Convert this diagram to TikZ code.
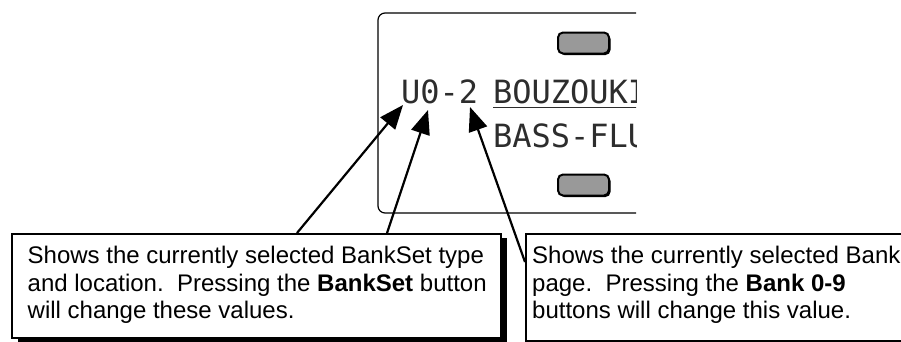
\documentclass[tikz,border=0pt]{standalone}
\usepackage{fontspec}
\setmainfont{Liberation Sans}
\newfontfamily\lcdfont{DejaVu Sans Mono}
\usetikzlibrary{arrows.meta,shadows,positioning}
\definecolor{btngray}{RGB}{153,153,153}
\definecolor{lcdgray}{RGB}{45,45,45}

\begin{document}
\begin{tikzpicture}[x=1pt,y=-1pt,
  panel/.style={line width=1.2pt,rounded corners=7pt},
  button/.style={draw,line width=2pt,fill=btngray,rounded corners=5pt,
    minimum width=51pt,minimum height=21pt,inner sep=0pt,
    drop shadow={shadow xshift=1.5pt,shadow yshift=-1.5pt,fill=black,opacity=1}},
  lcd/.style={font=\lcdfont\fontsize{32}{40}\selectfont,text=lcdgray,inner sep=0pt,outer sep=0pt},
  infobox/.style={draw,line width=2pt,fill=white,inner sep=0pt,anchor=north west,
    drop shadow={shadow xshift=6pt,shadow yshift=-4pt,fill=black,opacity=1}},
  infotext/.style={font=\fontsize{24}{27.5}\selectfont,align=left,inner sep=0pt,anchor=north west},
  callout/.style={line width=2.2pt,-{Triangle[length=24pt,width=19pt]}}
]
\useasboundingbox (0,0) rectangle (901,341);
\clip (0,0) rectangle (901,341);

\draw[panel] (636,13) -- (378,13) -- (378,213) -- (636,213);
\node (upbtn) [button] at (583.5,43) {};
\node (downbtn) [button] at (583.5,185) {};

\begin{scope}
\clip (380,14) rectangle (636,212);
\node (setname) [lcd,anchor=base west] at (401,103) {U0-2};
\node (patchA) [lcd,anchor=base west] at (493,103) {BOUZOUKI};
\node (patchB) [lcd,anchor=base west] at (493,147) {BASS-FLU};
\draw[lcdgray,line width=1.5pt] ([yshift=-4.5pt]patchA.base west) -- ([yshift=-4.5pt]patchA.base east);
\end{scope}

\node (setbox) [infobox,minimum width=489.5pt,minimum height=104pt] at (10.5,233) {};
\node (settext) [infotext,below right=13pt and 17pt of setbox.north west]
  {Shows the currently selected BankSet type\\
   and location.\ \ Pressing the \textbf{BankSet} button\\
   will change these values.};

\node (bankbox) [infobox,minimum width=420pt,minimum height=107pt] at (525,233) {};
\node (banktext) [infotext,below right=13pt and 7pt of bankbox.north west]
  {Shows the currently selected Bank\\
   page.\ \ Pressing the \textbf{Bank 0-9}\\
   buttons will change this value.};

\coordinate (footType) at (297,233);
\coordinate (footLoc) at (387,233);
\coordinate (footPage) at (525,262);
\coordinate (tipType) at (403,105);
\coordinate (tipLoc) at (428,110);
\coordinate (tipPage) at (470,107);

\draw[callout] (footType) -- (tipType);
\draw[callout] (footLoc) -- (tipLoc);
\draw[callout] (footPage) -- (tipPage);
\end{tikzpicture}
\end{document}
